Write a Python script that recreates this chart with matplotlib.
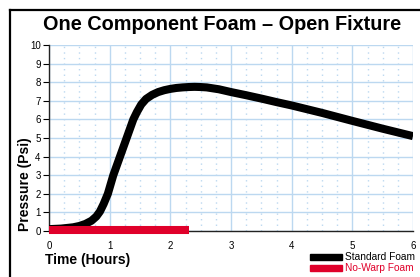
import matplotlib
matplotlib.use("Agg")
import matplotlib.pyplot as plt
from matplotlib.lines import Line2D
from matplotlib.patches import Rectangle
from matplotlib.ticker import MultipleLocator

plt.rcParams['font.family'] = ['Liberation Sans', 'DejaVu Sans']

# Data
std_t = [0, 0.2, 0.4, 0.5, 0.6, 0.7, 0.78, 0.84, 0.9, 0.97, 1.06, 1.17, 1.28, 1.39,
         1.45, 1.52, 1.6, 1.7, 1.8, 1.9, 2.0, 2.1, 2.2, 2.3, 2.4, 2.5, 2.6, 2.8,
         3.0, 3.25, 3.5, 3.75, 4.0, 4.5, 5.0, 5.5, 6.0]
std_p = [0.1, 0.13, 0.2, 0.27, 0.38, 0.55, 0.78, 1.05, 1.45, 2.0, 3.0, 4.0, 5.0, 6.0,
         6.4, 6.8, 7.1, 7.32, 7.47, 7.57, 7.64, 7.69, 7.72, 7.74, 7.75, 7.74, 7.72, 7.62,
         7.47, 7.3, 7.12, 6.93, 6.75, 6.35, 5.92, 5.5, 5.1]
nw_t = [0, 2.3]
nw_p = [0.06, 0.06]
x_ticks = [0, 1, 2, 3, 4, 5, 6]
y_ticks = list(range(0, 11))
title = "One Component Foam \u2013 Open Fixture"
labels = ["Standard Foam", "No-Warp Foam"]

W, H = 420, 277
fig = plt.figure(figsize=(W / 100, H / 100), dpi=100)
ax = fig.add_axes([49 / W, 1 - 231 / H, (413 - 49) / W, (231 - 45) / H])

grid_c = '#BCD8F0'
ax.set_xlim(0, 6)
ax.set_ylim(0, 10)
ax.set_xticks(x_ticks)
ax.set_yticks(y_ticks)
ax.xaxis.set_minor_locator(MultipleLocator(0.25))
ax.grid(True, which='major', color=grid_c, lw=1.0, zorder=0)
ax.grid(True, which='minor', axis='x', color=grid_c, lw=1.0, ls=(0, (1, 3)), zorder=0)
ax.set_axisbelow(True)
for s in ['top', 'right']:
    ax.spines[s].set_visible(False)
for s in ['left', 'bottom']:
    ax.spines[s].set_color('#222222')
    ax.spines[s].set_linewidth(1.0)
ax.tick_params(axis='y', which='major', length=4, width=0.8, labelsize=7, pad=2)
ax.tick_params(axis='x', which='major', length=0, labelsize=7, pad=7.5)
ax.tick_params(which='minor', length=0)

red = '#E0002A'
ax.plot(std_t, std_p, color='black', lw=5.8, solid_capstyle='butt',
        solid_joinstyle='round', zorder=3)
ax.plot(nw_t, nw_p, color=red, lw=5.8, solid_capstyle='butt', zorder=4, clip_on=False)

ax.set_xlabel("Time (Hours)", fontsize=10, fontweight='bold')
ax.xaxis.set_label_coords(-0.012, -0.12)
ax.xaxis.label.set_horizontalalignment('left')
ax.set_ylabel("Pressure (Psi)", fontsize=10, fontweight='bold')
ax.yaxis.set_label_coords(-0.047, 0.25)

fig.text(222 / W, 1 - 25 / H, title, fontsize=14.3, fontweight='bold',
         ha='center', va='center')

# border
fig.add_artist(Line2D([10 / W, 10 / W], [0, 1 - 10 / H], color='black', lw=1.6,
                      transform=fig.transFigure))
fig.add_artist(Line2D([10 / W, 1], [1 - 10 / H, 1 - 10 / H], color='black', lw=1.6,
                      transform=fig.transFigure))

# legend
for i, (lab, c) in enumerate(zip(labels, ['black', red])):
    yc = 257 + i * 11
    fig.add_artist(Rectangle((310 / W, 1 - (yc + 3) / H), 32 / W, 6 / H,
                             color=c, transform=fig.transFigure))
    fig.text(345 / W, 1 - yc / H, lab, fontsize=7.3, color=c,
             ha='left', va='center')

fig.savefig("out.png", dpi=100)
